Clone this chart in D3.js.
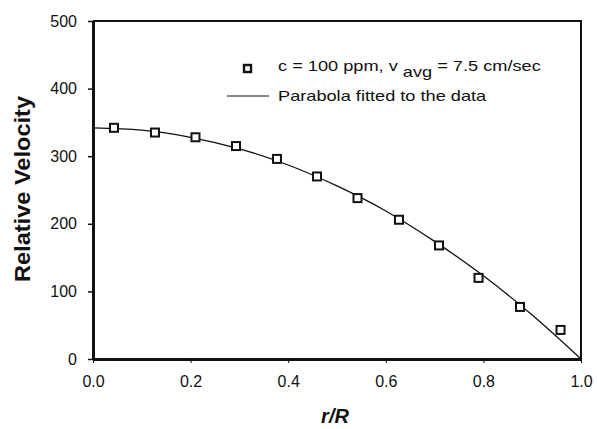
<!DOCTYPE html>
<html lang="en">
<head>
    <meta charset="UTF-8">
    <title>Relative Velocity vs r/R</title>
    <script src="https://d3js.org/d3.v7.min.js"></script>
    <style>
        body { margin: 0; background: #fff; }
        text { font-family: "Liberation Sans", Arial, sans-serif; fill: #111; }
    </style>
</head>
<body>
    <div id="chart"></div>
    <script>
        // measured points (r/R, relative velocity)
        var rPoints = [0.043, 0.127, 0.21, 0.293, 0.377, 0.459, 0.542, 0.627, 0.709, 0.79, 0.875, 0.958];
        var velPoints = [342, 335, 328, 315, 296, 270, 238, 206, 168, 120, 77, 43];

        // fitted parabola
        var rFit = [0, 0.1, 0.2, 0.3, 0.4, 0.5, 0.6, 0.7, 0.8, 0.9, 1.0];
        var velFit = [342, 338.6, 328, 311, 287, 256, 219, 174, 123, 65, 0];

        var xTicks = [0, 0.2, 0.4, 0.6, 0.8, 1.0];
        var yTicks = [0, 100, 200, 300, 400, 500];

        var width = 597, height = 429;
        var margin = {left: 93, right: 15, top: 21, bottom: 70};

        var svg = d3.select("#chart").append("svg")
            .attr("width", width)
            .attr("height", height);

        var x = d3.scaleLinear().domain([0, 1]).range([margin.left, width - margin.right - 1]);
        var y = d3.scaleLinear().domain([0, 500]).range([height - margin.bottom, margin.top]);

        // frame (top and right)
        svg.append("path")
            .attr("d", "M" + x(0) + "," + y(500) + "H" + x(1) + "V" + y(0))
            .attr("fill", "none")
            .attr("stroke", "#111")
            .attr("stroke-width", 2);

        var xAxis = svg.append("g")
            .attr("transform", "translate(0," + y(0) + ")")
            .call(d3.axisBottom(x).tickValues(xTicks).tickFormat(d3.format(".1f")).tickSizeInner(4).tickSizeOuter(0).tickPadding(13));
        xAxis.select(".domain").attr("stroke", "#111").attr("stroke-width", 3);
        xAxis.selectAll("line").attr("stroke", "#111").attr("stroke-width", 1);
        xAxis.selectAll("text").attr("font-size", 16).attr("font-family", "Liberation Sans, Arial, sans-serif");

        var yAxis = svg.append("g")
            .attr("transform", "translate(" + x(0) + ",0)")
            .call(d3.axisLeft(y).tickValues(yTicks).tickSizeInner(5).tickSizeOuter(0).tickPadding(11));
        yAxis.select(".domain").attr("stroke", "#111").attr("stroke-width", 3);
        yAxis.selectAll("line").attr("stroke", "#111").attr("stroke-width", 1.5);
        yAxis.selectAll("text").attr("font-size", 16).attr("font-family", "Liberation Sans, Arial, sans-serif");

        // fitted curve
        var fitData = rFit.map(function(r, i) { return {r: r, v: velFit[i]}; });
        svg.append("path")
            .datum(fitData)
            .attr("fill", "none")
            .attr("stroke", "#111")
            .attr("stroke-width", 1.3)
            .attr("d", d3.line().x(d => x(d.r)).y(d => y(d.v)).curve(d3.curveMonotoneX));

        // data markers
        var pts = rPoints.map(function(r, i) { return {r: r, v: velPoints[i]}; });
        var sq = 8;
        svg.selectAll(".pt")
            .data(pts)
            .enter()
            .append("rect")
            .attr("class", "pt")
            .attr("x", d => x(d.r) - sq / 2)
            .attr("y", d => y(d.v) - sq / 2)
            .attr("width", sq)
            .attr("height", sq)
            .attr("fill", "#fff")
            .attr("stroke", "#111")
            .attr("stroke-width", 2);

        // legend
        var lg = svg.append("g");
        lg.append("rect")
            .attr("x", 244).attr("y", 65).attr("width", 7).attr("height", 7)
            .attr("fill", "#fff").attr("stroke", "#111").attr("stroke-width", 2.4);
        var lt = lg.append("g").attr("transform", "translate(278,0) scale(1.3,1)");
        var t1 = lt.append("text").attr("x", 0).attr("y", 71).attr("font-size", 14);
        t1.append("tspan").text("c = 100 ppm, v ");
        t1.append("tspan").attr("dy", 6).text("avg");
        t1.append("tspan").attr("dy", -6).text(" = 7.5 cm/sec");
        lg.append("line")
            .attr("x1", 227).attr("x2", 269).attr("y1", 96).attr("y2", 96)
            .attr("stroke", "#111").attr("stroke-width", 1);
        lt.append("text").attr("x", 0).attr("y", 101).attr("font-size", 14)
            .text("Parabola fitted to the data");

        // axis titles
        svg.append("text")
            .attr("transform", "translate(30,189) rotate(-90)")
            .attr("text-anchor", "middle")
            .attr("font-size", 22)
            .attr("font-weight", "bold")
            .attr("textLength", 186)
            .attr("lengthAdjust", "spacingAndGlyphs")
            .text("Relative Velocity");
        svg.append("text")
            .attr("x", 335)
            .attr("y", 423)
            .attr("text-anchor", "middle")
            .attr("font-size", 20)
            .attr("font-weight", "bold")
            .attr("font-style", "italic")
            .text("r/R");
    </script>
</body>
</html>
